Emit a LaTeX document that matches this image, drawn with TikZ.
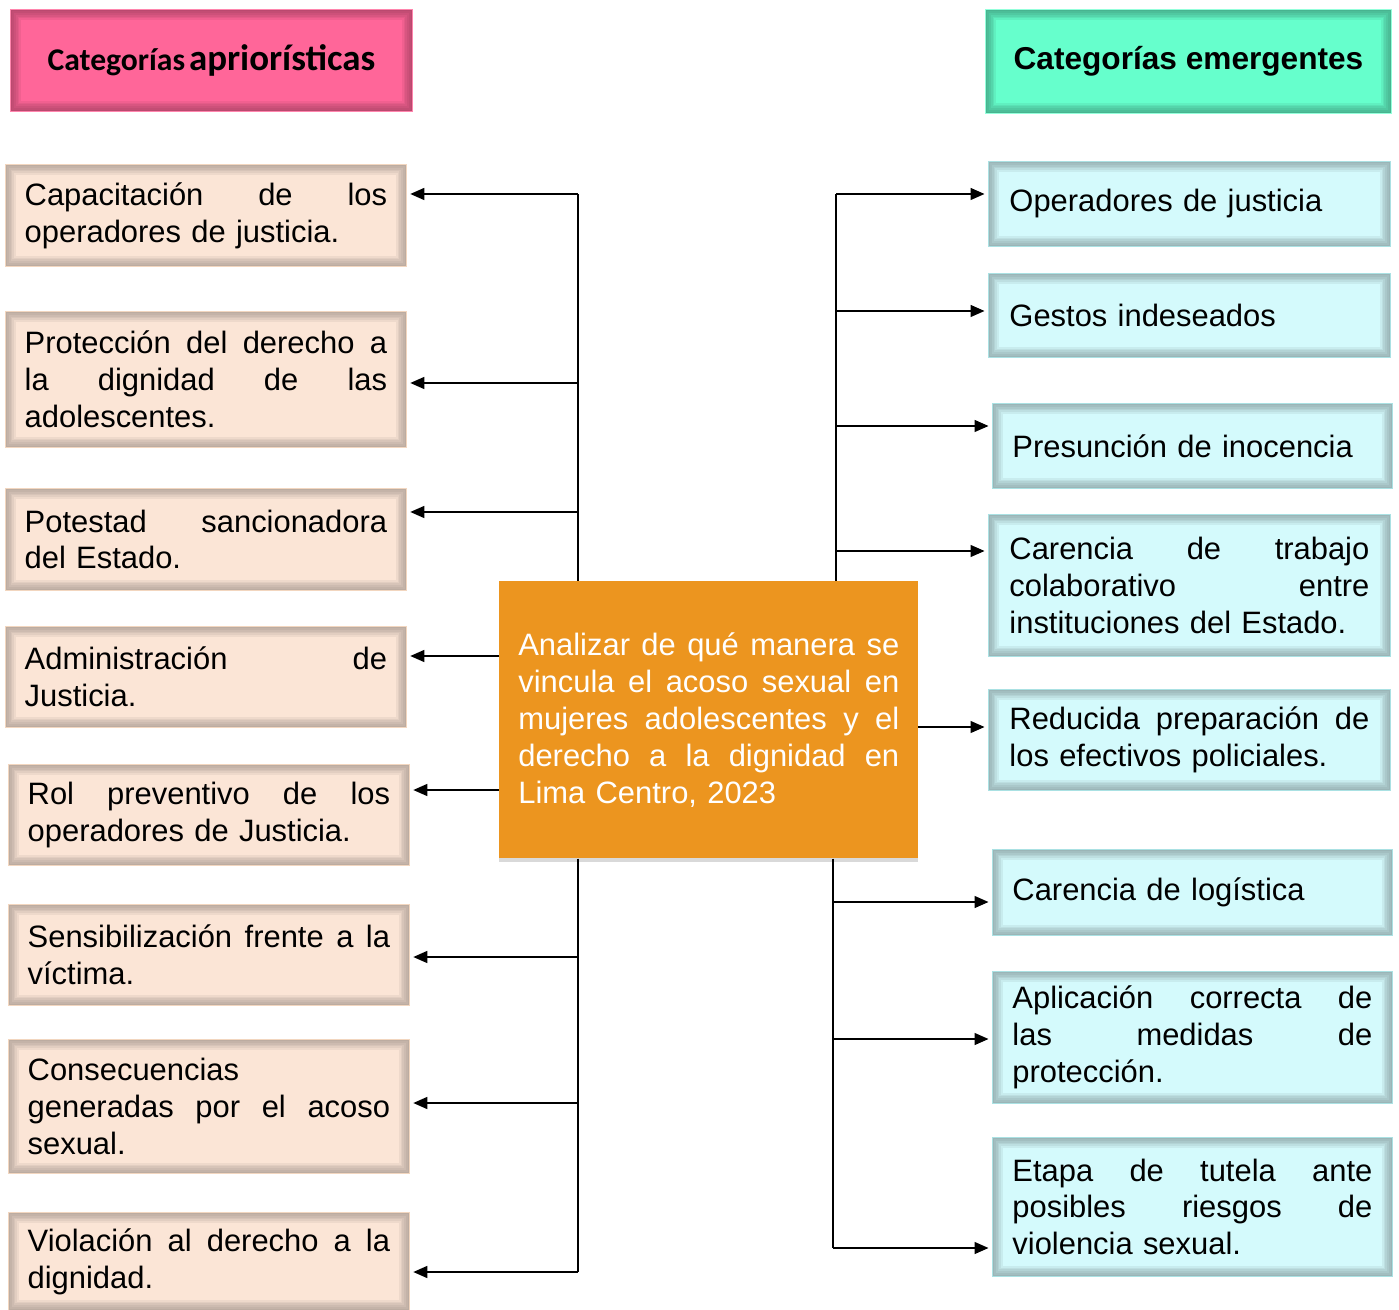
\documentclass[tikz,border=0pt]{standalone}
\usepackage{fontspec}
\setmainfont{Liberation Sans}
\newfontfamily\hdrfont{Carlito}
\usetikzlibrary{arrows.meta,shadows}

\begin{document}
\begin{tikzpicture}[x=0.02cm,y=-0.02cm]

% Define box colors
\definecolor{hdrpink}{RGB}{255,102,153}
\definecolor{hdrgreen}{RGB}{102,255,204}
\definecolor{aprifill}{RGB}{251,229,214}
\definecolor{emerfill}{RGB}{212,250,252}
\definecolor{goalcolor}{RGB}{236,149,31}
\colorlet{pinkshade}{hdrpink!40!black}
\colorlet{greenshade}{hdrgreen!35!black}
\colorlet{aprishade}{aprifill!45!black}
\colorlet{emershade}{emerfill!40!black}

\useasboundingbox (0,0) rectangle (1399,1310);

\begin{scope}[
every node/.style={anchor=north west, align=left, font=\fontsize{17.6}{21}\selectfont},
glow/.style={path picture={
    \foreach \w in {2pt,4pt,6pt,8pt,10pt,12pt}
      \draw[#1,opacity=0.09,line width=\w] (path picture bounding box.south west) rectangle (path picture bounding box.north east);}},
pinkhdr/.style={fill=hdrpink, draw=hdrpink!80!white, line width=0.6pt, glow=pinkshade, align=center, font=\hdrfont\bfseries},
greenhdr/.style={fill=hdrgreen, draw=hdrgreen!70!white, line width=0.6pt, glow=greenshade, align=center, font=\bfseries\fontsize{18}{21}\selectfont},
apriori/.style={fill=aprifill, draw=aprifill!85!brown, line width=0.5pt, glow=aprishade, minimum width=8.02cm, text width=7.25cm, inner xsep=0.38cm},
emerg/.style={fill=emerfill, draw=emerfill!80!teal, line width=0.5pt, glow=emershade, minimum width=8.04cm, text width=7.2cm, inner xsep=0.4cm},
goal/.style={fill=goalcolor, text=white, drop shadow={shadow xshift=0pt, shadow yshift=-2pt, opacity=0.3}, minimum width=8.38cm, minimum height=5.54cm, text width=7.62cm, inner xsep=0.38cm},
arr/.style={-{Triangle[length=0.28cm,width=0.24cm]}, line width=0.8pt, shorten >=2pt},
bus/.style={line width=0.8pt}]

% Headers
\node[pinkhdr, minimum width=8.04cm, minimum height=2.04cm] (hdrL) at (10,9) {{\fontsize{18}{21}\selectfont Categorías} {\fontsize{21}{24}\selectfont apriorísticas}};
\node[greenhdr, minimum width=8.12cm, minimum height=2.08cm] (hdrR) at (985,9) {Categorías emergentes};

% Central objective
\node[goal] (goal) at (499,581) {Analizar\hfill de\hfill qué\hfill manera\hfill se\\vincula\hfill el\hfill acoso\hfill sexual\hfill en\\mujeres\hfill adolescentes\hfill y\hfill el\\derecho\hfill a\hfill la\hfill dignidad\hfill en\\Lima Centro, 2023};

% Apriori categories (left)
\node[apriori, minimum height=2.04cm] (L1) at (5,164) {Capacitación\hfill de\hfill los\\operadores de justicia.};
\node[apriori, minimum height=2.72cm] (L2) at (5,311) {Protección\hfill del\hfill derecho\hfill a\\la\hfill dignidad\hfill de\hfill las\\adolescentes.};
\node[apriori, minimum height=2.04cm] (L3) at (5,488) {Potestad\hfill sancionadora\\del Estado.};
\node[apriori, minimum height=2.02cm] (L4) at (5,626) {Administración\hfill de\\Justicia.};
\node[apriori, minimum height=2.02cm] (L5) at (8,764) {Rol\hfill preventivo\hfill de\hfill los\\operadores de Justicia.};
\node[apriori, minimum height=2.02cm] (L6) at (8,904) {Sensibilización\hfill frente\hfill a\hfill la\\víctima.};
\node[apriori, minimum height=2.68cm] (L7) at (8,1039) {Consecuencias\\generadas\hfill por\hfill el\hfill acoso\\sexual.};
\node[apriori, minimum height=1.96cm] (L8) at (8,1212) {Violación\hfill al\hfill derecho\hfill a\hfill la\\dignidad.};

% Emergent categories (right)
\node[emerg, minimum height=1.7cm] (R1) at (988,161) {Operadores de justicia};
\node[emerg, minimum height=1.68cm] (R2) at (988,273) {Gestos indeseados};
\node[emerg, minimum height=1.7cm, minimum width=8cm] (R3) at (992,403) {Presunción de inocencia};
\node[emerg, minimum height=2.84cm] (R4) at (988,514) {Carencia\hfill de\hfill trabajo\\colaborativo\hfill entre\\instituciones del Estado.};
\node[emerg, minimum height=2.02cm] (R5) at (988,689) {Reducida\hfill preparación\hfill de\\los efectivos policiales.};
\node[emerg, minimum height=1.72cm, minimum width=8cm] (R6) at (992,849) {Carencia de logística};
\node[emerg, minimum height=2.64cm, minimum width=8cm] (R7) at (992,971) {Aplicación\hfill correcta\hfill de\\las\hfill medidas\hfill de\\protección.};
\node[emerg, minimum height=2.78cm, minimum width=8cm] (R8) at (992,1137) {Etapa\hfill de\hfill tutela\hfill ante\\posibles\hfill riesgos\hfill de\\violencia sexual.};

% Bus points
\foreach \n/\y in {1/194,2/383,3/512,6/957,7/1103,8/1272}
  \coordinate (lb\n) at (578,\y);
\foreach \n/\y in {1/194,2/311,3/426,4/551}
  \coordinate (rb\n) at (836,\y);
\foreach \n/\y in {6/902,7/1039,8/1248}
  \coordinate (rb\n) at (833,\y);
\coordinate (lg4) at (499,656);
\coordinate (lg5) at (499,790);
\coordinate (rg5) at (918,727);

% Connectors
\draw[bus] (goal.north -| lb1) -- (lb1);
\draw[bus] (goal.south -| lb6) -- (lb8);
\draw[bus] (goal.north -| rb1) -- (rb1);
\draw[bus] (goal.south -| rb6) -- (rb8);
\foreach \n in {1,2,3,6,7,8}
  \draw[arr] (lb\n) -- (L\n.east |- lb\n);
\foreach \n in {4,5}
  \draw[arr] (lg\n) -- (L\n.east |- lg\n);
\foreach \n in {1,2,3,4,6,7,8}
  \draw[arr] (rb\n) -- (R\n.west |- rb\n);
\draw[arr] (rg5) -- (R5.west |- rg5);
\end{scope}
\end{tikzpicture}
\end{document}
